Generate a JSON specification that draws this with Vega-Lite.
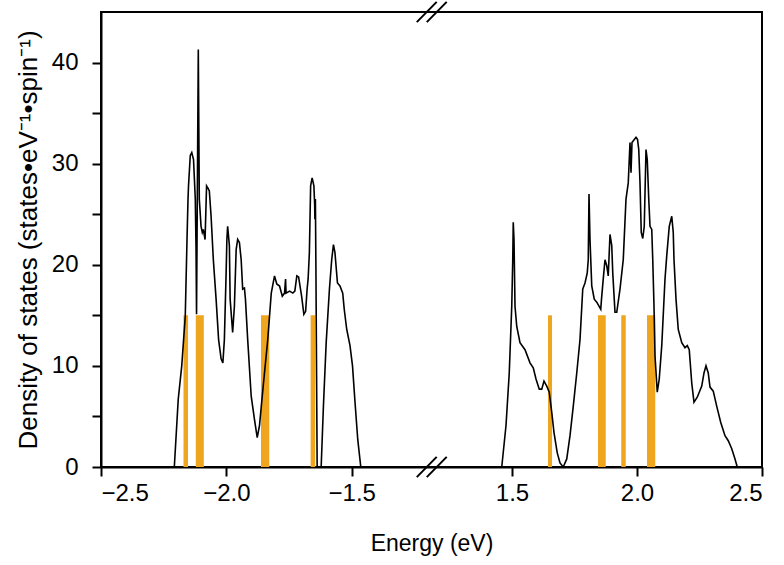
{
  "$schema": "https://vega.github.io/schema/vega-lite/v6.json",
  "width": 661,
  "height": 455,
  "autosize": {"type": "none"},
  "padding": {"left": 101, "top": 12, "right": 22, "bottom": 98},
  "background": "white",
  "config": {
    "view": {"stroke": "black", "strokeWidth": 2},
    "axis": {
      "grid": false,
      "domainColor": "black",
      "domainWidth": 2,
      "tickColor": "black",
      "tickWidth": 2,
      "tickSize": 9,
      "labelColor": "black",
      "titleColor": "black",
      "labelFont": "Liberation Sans",
      "titleFont": "Liberation Sans",
      "labelFontSize": 24,
      "titleFontSize": 23,
      "titleFontWeight": "normal"
    }
  },
  "datasets": {
    "dos": [
      {"e": -2.2076, "d": 0, "b": "L"},
      {"e": -2.192, "d": 6.7, "b": "L"},
      {"e": -2.178, "d": 10, "b": "L"},
      {"e": -2.164, "d": 14.9, "b": "L"},
      {"e": -2.157, "d": 22.5, "b": "L"},
      {"e": -2.153, "d": 26.5, "b": "L"},
      {"e": -2.151, "d": 27.8, "b": "L"},
      {"e": -2.144, "d": 30.8, "b": "L"},
      {"e": -2.138, "d": 31.1, "b": "L"},
      {"e": -2.131, "d": 30.4, "b": "L"},
      {"e": -2.124, "d": 26.5, "b": "L"},
      {"e": -2.121, "d": 21.5, "b": "L"},
      {"e": -2.119, "d": 15.1, "b": "L"},
      {"e": -2.112, "d": 41.3, "b": "L"},
      {"e": -2.108, "d": 26.5, "b": "L"},
      {"e": -2.101, "d": 23.8, "b": "L"},
      {"e": -2.096, "d": 23.2, "b": "L"},
      {"e": -2.092, "d": 23.5, "b": "L"},
      {"e": -2.085, "d": 22.5, "b": "L"},
      {"e": -2.079, "d": 27.8, "b": "L"},
      {"e": -2.074, "d": 27.6, "b": "L"},
      {"e": -2.068, "d": 27.3, "b": "L"},
      {"e": -2.061, "d": 24.8, "b": "L"},
      {"e": -2.052, "d": 20.5, "b": "L"},
      {"e": -2.041, "d": 16.6, "b": "L"},
      {"e": -2.031, "d": 12.6, "b": "L"},
      {"e": -2.021, "d": 10.7, "b": "L"},
      {"e": -2.014, "d": 10.3, "b": "L"},
      {"e": -2.008, "d": 12.6, "b": "L"},
      {"e": -2.001, "d": 19.2, "b": "L"},
      {"e": -1.998, "d": 22.5, "b": "L"},
      {"e": -1.995, "d": 23.8, "b": "L"},
      {"e": -1.988, "d": 21.9, "b": "L"},
      {"e": -1.985, "d": 16.6, "b": "L"},
      {"e": -1.975, "d": 13.3, "b": "L"},
      {"e": -1.968, "d": 15.9, "b": "L"},
      {"e": -1.961, "d": 21.5, "b": "L"},
      {"e": -1.955, "d": 22.5, "b": "L"},
      {"e": -1.948, "d": 22.2, "b": "L"},
      {"e": -1.941, "d": 20.5, "b": "L"},
      {"e": -1.935, "d": 17.6, "b": "L"},
      {"e": -1.928, "d": 17.7, "b": "L"},
      {"e": -1.924, "d": 16.6, "b": "L"},
      {"e": -1.915, "d": 12.6, "b": "L"},
      {"e": -1.901, "d": 7.0, "b": "L"},
      {"e": -1.888, "d": 4.7, "b": "L"},
      {"e": -1.877, "d": 2.9, "b": "L"},
      {"e": -1.868, "d": 4.1, "b": "L"},
      {"e": -1.852, "d": 8.3, "b": "L"},
      {"e": -1.835, "d": 12.6, "b": "L"},
      {"e": -1.821, "d": 17.2, "b": "L"},
      {"e": -1.808, "d": 18.9, "b": "L"},
      {"e": -1.799, "d": 18.1, "b": "L"},
      {"e": -1.788, "d": 17.9, "b": "L"},
      {"e": -1.777, "d": 16.9, "b": "L"},
      {"e": -1.768, "d": 17.2, "b": "L"},
      {"e": -1.764, "d": 18.6, "b": "L"},
      {"e": -1.762, "d": 17.2, "b": "L"},
      {"e": -1.748, "d": 17.4, "b": "L"},
      {"e": -1.735, "d": 17.2, "b": "L"},
      {"e": -1.727, "d": 17.4, "b": "L"},
      {"e": -1.719, "d": 18.9, "b": "L"},
      {"e": -1.712, "d": 18.8, "b": "L"},
      {"e": -1.7, "d": 16.9, "b": "L"},
      {"e": -1.691, "d": 15.1, "b": "L"},
      {"e": -1.684, "d": 15.4, "b": "L"},
      {"e": -1.678, "d": 17.6, "b": "L"},
      {"e": -1.674, "d": 18.6, "b": "L"},
      {"e": -1.669, "d": 21.2, "b": "L"},
      {"e": -1.664, "d": 27.8, "b": "L"},
      {"e": -1.658, "d": 28.6, "b": "L"},
      {"e": -1.651, "d": 27.8, "b": "L"},
      {"e": -1.648, "d": 26.0, "b": "L"},
      {"e": -1.647, "d": 24.5, "b": "L"},
      {"e": -1.645, "d": 26.5, "b": "L"},
      {"e": -1.643, "d": 20, "b": "L"},
      {"e": -1.638, "d": 0, "b": "L"},
      {"e": -1.622, "d": 0, "b": "L"},
      {"e": -1.613, "d": 6.0, "b": "L"},
      {"e": -1.602, "d": 12.3, "b": "L"},
      {"e": -1.589, "d": 17.6, "b": "L"},
      {"e": -1.58, "d": 20.5, "b": "L"},
      {"e": -1.573, "d": 22.0, "b": "L"},
      {"e": -1.567, "d": 21.2, "b": "L"},
      {"e": -1.557, "d": 18.2, "b": "L"},
      {"e": -1.547, "d": 17.9, "b": "L"},
      {"e": -1.536, "d": 17.2, "b": "L"},
      {"e": -1.53, "d": 15.6, "b": "L"},
      {"e": -1.52, "d": 13.6, "b": "L"},
      {"e": -1.507, "d": 12.0, "b": "L"},
      {"e": -1.497, "d": 10.0, "b": "L"},
      {"e": -1.487, "d": 6.4, "b": "L"},
      {"e": -1.476, "d": 2.7, "b": "L"},
      {"e": -1.464, "d": 0, "b": "L"},
      {"e": 1.459, "d": 0, "b": "R"},
      {"e": 1.476, "d": 4.1, "b": "R"},
      {"e": 1.489, "d": 9.3, "b": "R"},
      {"e": 1.499, "d": 15.9, "b": "R"},
      {"e": 1.503, "d": 20.5, "b": "R"},
      {"e": 1.505, "d": 24.2, "b": "R"},
      {"e": 1.508, "d": 22.5, "b": "R"},
      {"e": 1.509, "d": 20.9, "b": "R"},
      {"e": 1.512, "d": 15.9, "b": "R"},
      {"e": 1.519, "d": 13.9, "b": "R"},
      {"e": 1.532, "d": 12.3, "b": "R"},
      {"e": 1.552, "d": 11.6, "b": "R"},
      {"e": 1.572, "d": 10.3, "b": "R"},
      {"e": 1.585, "d": 9.8, "b": "R"},
      {"e": 1.596, "d": 8.7, "b": "R"},
      {"e": 1.609, "d": 7.7, "b": "R"},
      {"e": 1.619, "d": 7.7, "b": "R"},
      {"e": 1.628, "d": 8.5, "b": "R"},
      {"e": 1.639, "d": 8.0, "b": "R"},
      {"e": 1.649, "d": 7.4, "b": "R"},
      {"e": 1.659, "d": 5.4, "b": "R"},
      {"e": 1.668, "d": 3.4, "b": "R"},
      {"e": 1.681, "d": 1.4, "b": "R"},
      {"e": 1.692, "d": 0.4, "b": "R"},
      {"e": 1.705, "d": 0, "b": "R"},
      {"e": 1.719, "d": 0.8, "b": "R"},
      {"e": 1.732, "d": 3.1, "b": "R"},
      {"e": 1.745, "d": 6.0, "b": "R"},
      {"e": 1.759, "d": 9.3, "b": "R"},
      {"e": 1.772, "d": 12.6, "b": "R"},
      {"e": 1.783, "d": 17.6, "b": "R"},
      {"e": 1.792, "d": 18.2, "b": "R"},
      {"e": 1.801, "d": 19.2, "b": "R"},
      {"e": 1.805, "d": 20.5, "b": "R"},
      {"e": 1.808, "d": 27.0, "b": "R"},
      {"e": 1.812, "d": 22.5, "b": "R"},
      {"e": 1.819, "d": 17.9, "b": "R"},
      {"e": 1.829, "d": 16.6, "b": "R"},
      {"e": 1.839, "d": 16.3, "b": "R"},
      {"e": 1.848, "d": 15.9, "b": "R"},
      {"e": 1.855, "d": 15.6, "b": "R"},
      {"e": 1.858, "d": 16.6, "b": "R"},
      {"e": 1.865, "d": 18.6, "b": "R"},
      {"e": 1.872, "d": 20.5, "b": "R"},
      {"e": 1.879, "d": 19.9, "b": "R"},
      {"e": 1.885, "d": 18.9, "b": "R"},
      {"e": 1.892, "d": 23.0, "b": "R"},
      {"e": 1.899, "d": 21.9, "b": "R"},
      {"e": 1.903, "d": 19.2, "b": "R"},
      {"e": 1.912, "d": 15.3, "b": "R"},
      {"e": 1.919, "d": 15.3, "b": "R"},
      {"e": 1.932, "d": 17.6, "b": "R"},
      {"e": 1.945, "d": 20.5, "b": "R"},
      {"e": 1.956, "d": 26.5, "b": "R"},
      {"e": 1.965, "d": 28.1, "b": "R"},
      {"e": 1.972, "d": 32.1, "b": "R"},
      {"e": 1.976, "d": 29.1, "b": "R"},
      {"e": 1.98, "d": 32.1, "b": "R"},
      {"e": 1.989, "d": 32.4, "b": "R"},
      {"e": 1.996, "d": 32.6, "b": "R"},
      {"e": 2.002, "d": 32.4, "b": "R"},
      {"e": 2.007, "d": 31.4, "b": "R"},
      {"e": 2.012, "d": 28.1, "b": "R"},
      {"e": 2.017, "d": 23.2, "b": "R"},
      {"e": 2.023, "d": 22.6, "b": "R"},
      {"e": 2.029, "d": 23.8, "b": "R"},
      {"e": 2.036, "d": 31.4, "b": "R"},
      {"e": 2.041, "d": 30.4, "b": "R"},
      {"e": 2.047, "d": 26.5, "b": "R"},
      {"e": 2.052, "d": 23.8, "b": "R"},
      {"e": 2.059, "d": 23.5, "b": "R"},
      {"e": 2.063, "d": 20.5, "b": "R"},
      {"e": 2.068, "d": 15.9, "b": "R"},
      {"e": 2.072, "d": 11.0, "b": "R"},
      {"e": 2.081, "d": 7.4, "b": "R"},
      {"e": 2.089, "d": 8.7, "b": "R"},
      {"e": 2.099, "d": 12.0, "b": "R"},
      {"e": 2.112, "d": 18.6, "b": "R"},
      {"e": 2.119, "d": 20.9, "b": "R"},
      {"e": 2.129, "d": 23.8, "b": "R"},
      {"e": 2.139, "d": 24.8, "b": "R"},
      {"e": 2.145, "d": 23.2, "b": "R"},
      {"e": 2.148, "d": 20.5, "b": "R"},
      {"e": 2.156, "d": 16.6, "b": "R"},
      {"e": 2.165, "d": 13.6, "b": "R"},
      {"e": 2.179, "d": 12.3, "b": "R"},
      {"e": 2.192, "d": 11.8, "b": "R"},
      {"e": 2.201, "d": 12.0, "b": "R"},
      {"e": 2.209, "d": 11.6, "b": "R"},
      {"e": 2.219, "d": 8.3, "b": "R"},
      {"e": 2.228, "d": 6.4, "b": "R"},
      {"e": 2.241, "d": 6.9, "b": "R"},
      {"e": 2.259, "d": 8.0, "b": "R"},
      {"e": 2.268, "d": 9.3, "b": "R"},
      {"e": 2.276, "d": 10.0, "b": "R"},
      {"e": 2.285, "d": 9.3, "b": "R"},
      {"e": 2.292, "d": 7.9, "b": "R"},
      {"e": 2.305, "d": 7.5, "b": "R"},
      {"e": 2.319, "d": 6.0, "b": "R"},
      {"e": 2.335, "d": 4.4, "b": "R"},
      {"e": 2.352, "d": 3.1, "b": "R"},
      {"e": 2.365, "d": 2.6, "b": "R"},
      {"e": 2.379, "d": 1.8, "b": "R"},
      {"e": 2.392, "d": 0.8, "b": "R"},
      {"e": 2.401, "d": 0, "b": "R"}
    ],
    "bars": [
      {"e1": -2.171, "e2": -2.153, "h": 15, "z": 0},
      {"e1": -2.122, "e2": -2.09, "h": 15, "z": 0},
      {"e1": -1.862, "e2": -1.829, "h": 15, "z": 0},
      {"e1": -1.664, "e2": -1.646, "h": 15, "z": 0},
      {"e1": 1.644, "e2": 1.66, "h": 15, "z": 0},
      {"e1": 1.844, "e2": 1.875, "h": 15, "z": 0},
      {"e1": 1.937, "e2": 1.955, "h": 15, "z": 0},
      {"e1": 2.04, "e2": 2.073, "h": 15, "z": 0}
    ],
    "brk": [
      {"x": -1.2407, "y": -1, "g": "b1"},
      {"x": 1.1988, "y": 1, "g": "b1"},
      {"x": -1.2008, "y": -1, "g": "b2"},
      {"x": 1.2388, "y": 1, "g": "b2"},
      {"x": -1.2407, "y": 44, "g": "t1"},
      {"x": 1.1988, "y": 46, "g": "t1"},
      {"x": -1.2008, "y": 44, "g": "t2"},
      {"x": 1.2388, "y": 46, "g": "t2"}
    ]
  },
  "layer": [
    {
      "data": {"name": "bars"},
      "mark": {"type": "rect", "color": "#F0A51E"},
      "encoding": {
        "x": {"field": "e1", "type": "quantitative",
          "scale": {"domain": [-2.5, -1.18, 1.18, 2.5], "range": [0, 331, 331, 661], "nice": false, "zero": false},
          "axis": {"values": [-2.5, -2, -1.5, 1.5, 2, 2.5], "format": ".1f", "title": "Energy (eV)", "labelPadding": 5, "titlePadding": 27}},
        "x2": {"field": "e2"},
        "y": {"field": "h", "type": "quantitative",
          "scale": {"domain": [0, 45], "nice": false, "zero": true},
          "axis": {"values": [0, 5, 10, 15, 20, 25, 30, 35, 40], "labelExpr": "datum.value % 10 === 0 ? datum.label : ''", "title": "Density of states (states•eV⁻¹•spin⁻¹)", "titleFontSize": 26, "labelPadding": 14, "titlePadding": 10}},
        "y2": {"field": "z"}
      }
    },
    {
      "data": {"name": "dos"},
      "mark": {"type": "line", "color": "black", "strokeWidth": 1.6},
      "encoding": {
        "x": {"field": "e", "type": "quantitative"},
        "y": {"field": "d", "type": "quantitative"},
        "detail": {"field": "b", "type": "nominal"}
      }
    },
    {
      "data": {"name": "brk"},
      "mark": {"type": "line", "color": "black", "strokeWidth": 2},
      "encoding": {
        "x": {"field": "x", "type": "quantitative"},
        "y": {"field": "y", "type": "quantitative"},
        "detail": {"field": "g", "type": "nominal"}
      }
    }
  ]
}
